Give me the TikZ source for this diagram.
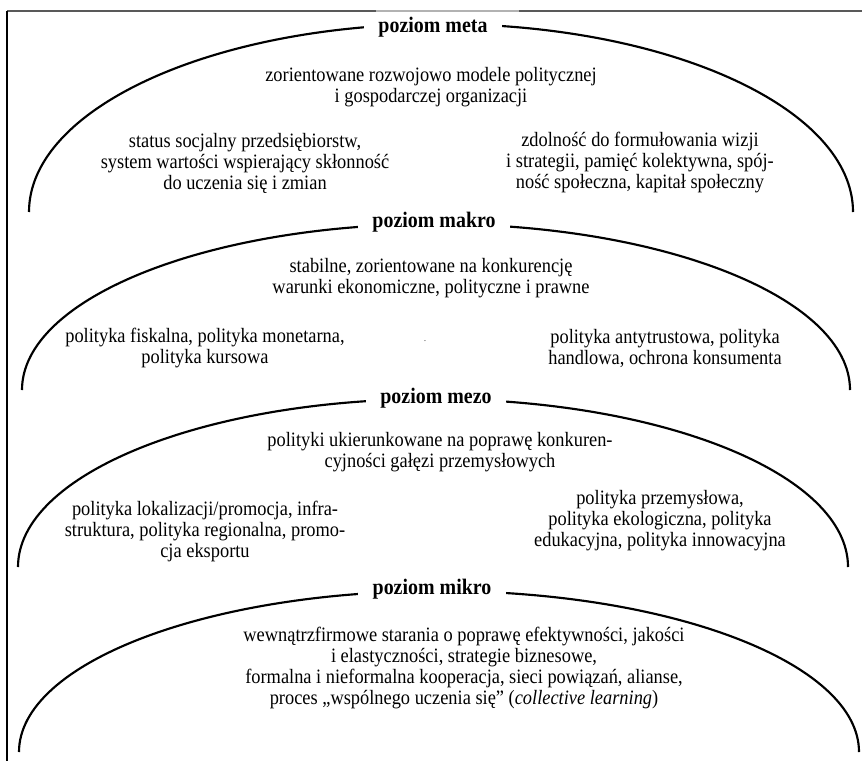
\documentclass[tikz,border=0pt]{standalone}
\usepackage{fontspec}
\setmainfont{Liberation Serif}[FakeStretch=0.9]
\usetikzlibrary{calc}
\def\levelarc(#1)(#2:#3){\draw[arcline] ($(#1)+(-#2,0)$) arc (180:360:#2 and #3);}

\begin{document}
\begin{tikzpicture}[x=0.7pt,y=-0.7pt,
    arcline/.style={line width=1.5pt},
    frameline/.style={line width=1.1pt, color=black!65},
    level/.style={fill=white, font=\fontsize{15.5}{18}\selectfont\bfseries, inner xsep=10pt, inner ysep=1pt},
    txt/.style={align=center, font=\fontsize{14.3}{14.7}\selectfont}]
			%%%%% START %%%%%
			\useasboundingbox (0,0) rectangle (862,761);
			
			\draw[frameline] (7,11) -- (862,11);
			\draw[frameline, color=black!30] (376,11) -- (519,11);
			\draw[line width=0.9pt] (7,11) -- (7,761);
			
			%%%%% meta %%%%%
			\levelarc(441,212)(412:188)
			\node[level] (meta) at (433,27) {poziom meta};
			\node[txt] (metaA) at (431,87) {zorientowane rozwojowo modele politycznej\\i gospodarczej organizacji};
			\node[txt] (metaB) at (245,163) {status socjalny przedsiębiorstw,\\system wartości wspierający skłonność\\do uczenia się i zmian};
			\node[txt] (metaC) at (640,163) {zdolność do formułowania wizji\\i strategii, pamięć kolektywna, spój-\\ność społeczna, kapitał społeczny};
			
			%%%%% makro %%%%%
			\levelarc(436,390)(414:166)
			\node[level] (makro) at (434,222) {poziom makro};
			\node[txt] (makroA) at (431,278) {stabilne, zorientowane na konkurencję\\warunki ekonomiczne, polityczne i prawne};
			\node[txt] (makroB) at (205,348) {polityka fiskalna, polityka monetarna,\\polityka kursowa};
			\node[txt, font=\fontsize{6}{7}\selectfont] (makroDot) at (425,341) {.};
			\node[txt] (makroC) at (665,348) {polityka antytrustowa, polityka\\handlowa, ochrona konsumenta};
			
			%%%%% mezo %%%%%
			\levelarc(433,567)(415:168)
			\node[level] (mezo) at (436,398) {poziom mezo};
			\node[txt] (mezoA) at (440,452) {polityki ukierunkowane na poprawę konkuren-\\cyjności gałęzi przemysłowych};
			\node[txt] (mezoB) at (205,531) {polityka lokalizacji/promocja, infra-\\struktura, polityka regionalna, promo-\\cja eksportu};
			\node[txt] (mezoC) at (660,521) {polityka przemysłowa,\\polityka ekologiczna, polityka\\edukacyjna, polityka innowacyjna};
			
			%%%%% mikro %%%%%
			\levelarc(439,752)(420:161)
			\node[level] (mikro) at (432,589) {poziom mikro};
			\node[txt] (mikroA) at (464,668) {wewnątrzfirmowe starania o poprawę efektywności, jakości\\i elastyczności, strategie biznesowe,\\formalna i nieformalna kooperacja, sieci powiązań, alianse,\\proces „wspólnego uczenia się” (\textit{collective learning})};
			
			%%%%% END %%%%%
		\end{tikzpicture}
\end{document}
